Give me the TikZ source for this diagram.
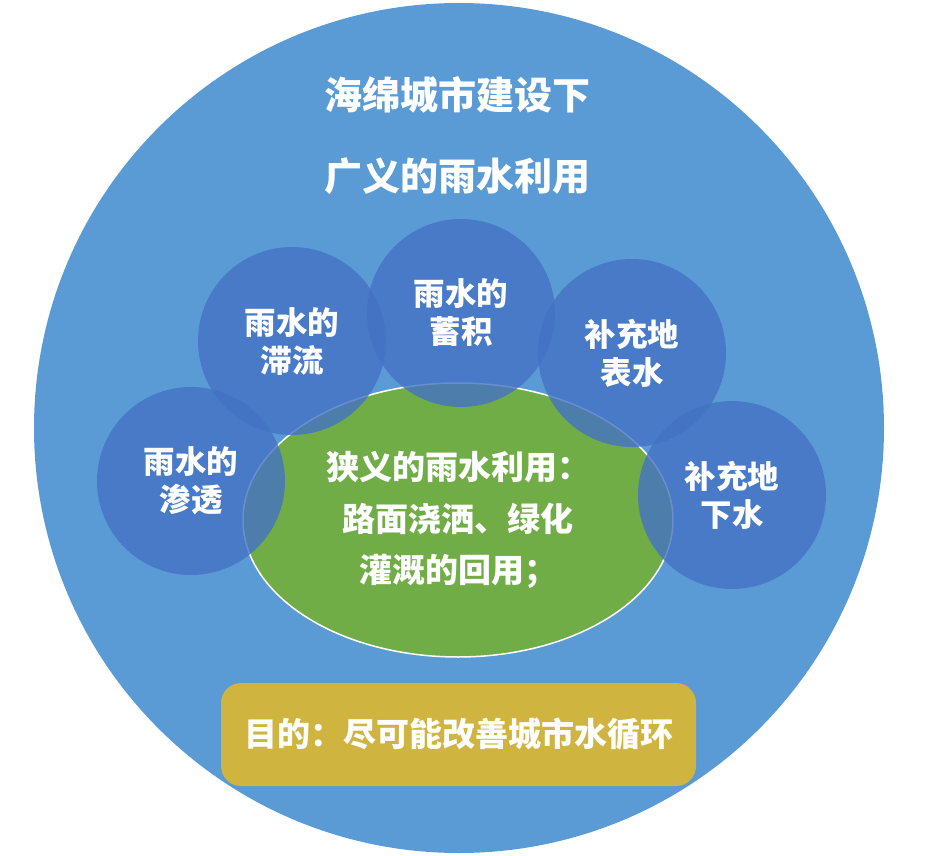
\documentclass[tikz,border=0pt]{standalone}
\usepackage{fontspec}
\newfontfamily\cjk{Noto Sans CJK SC}
\usetikzlibrary{shapes.geometric}
\definecolor{spongeBlue}{RGB}{91,155,213}
\definecolor{dropBlue}{RGB}{68,114,196}
\definecolor{narrowGreen}{RGB}{112,173,71}
\definecolor{goalGold}{RGB}{207,181,64}

\begin{document}
\begin{tikzpicture}[x=1pt, y=-1pt,
        titleText/.style={text=white, font={\cjk\bfseries\fontsize{38}{44}\selectfont}},
        drop/.style={circle, fill=dropBlue, fill opacity=0.8, text opacity=1, draw=none,
            minimum size=188pt, inner sep=0pt, text=white, align=center,
            font={\cjk\bfseries\fontsize{31.5}{38}\selectfont}}]
        \useasboundingbox (0, 0) rectangle (943, 856);
        % centres, in pixels of the page
        \coordinate (mid) at (459, 428);
        \coordinate (seepCenter) at (191, 481);
        \coordinate (detainCenter) at (292, 341);
        \coordinate (storeCenter) at (461, 313);
        \coordinate (surfaceCenter) at (632, 353);
        \coordinate (groundCenter) at (732, 495);
        % the whole sponge city
        \fill [spongeBlue] (mid) circle [radius=425];
        \node [titleText] (titleTop) at (457, 95) {海绵城市建设下};
        \node [titleText] (titleBottom) at (457, 176) {广义的雨水利用};
        % narrow use in the middle
        \node [ellipse, fill=narrowGreen, draw=white, line width=1.5pt, minimum width=430pt, minimum height=274pt,
            inner sep=0pt, text=white, align=center, font={\cjk\bfseries\fontsize{33}{51.5}\selectfont}]
            (narrowUse) at (458, 520) {狭义的雨水利用：\\ 路面浇洒、绿化\\ 灌溉的回用；};
        % the five ways round it
        \node [drop] (seep) at (seepCenter) {雨水的\\ 渗透};
        \node [drop] (detain) at (detainCenter) {雨水的\\ 滞流};
        \node [drop] (store) at (storeCenter) {雨水的\\ 蓄积};
        \node [drop] (surface) at (surfaceCenter) {补充地\\ 表水};
        \node [drop] (ground) at (groundCenter) {补充地\\ 下水};
        % aim
        \node [rectangle, rounded corners=20pt, fill=goalGold, minimum width=475pt, minimum height=103pt,
            inner sep=0pt, text=white, font={\cjk\bfseries\fontsize{33}{38}\selectfont}]
            (goal) at (458.5, 734.5) {目的：尽可能改善城市水循环};
\end{tikzpicture}
\end{document}
